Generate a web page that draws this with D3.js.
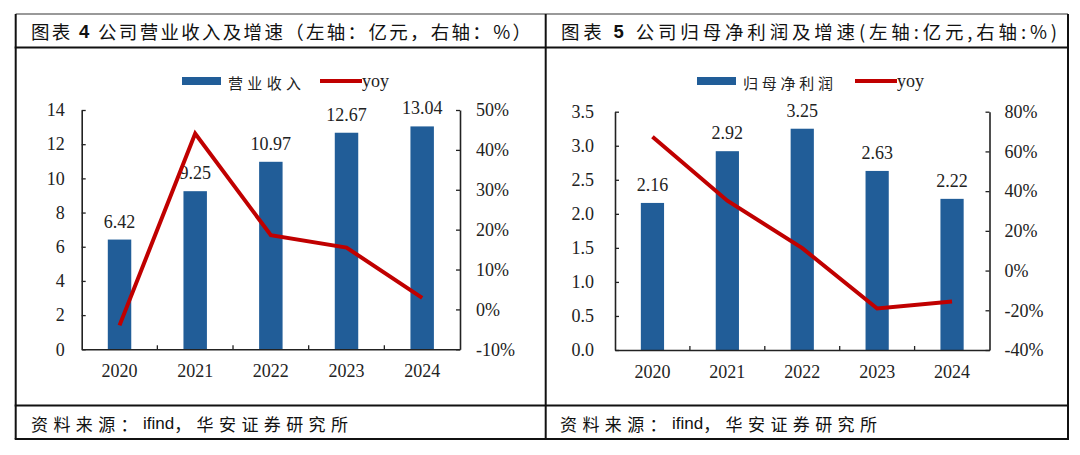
<!DOCTYPE html>
<html>
<head>
<meta charset="utf-8">
<script src="https://cdn.jsdelivr.net/npm/d3@7"></script>
<style>
  body { margin: 0; background: #fff; }
  svg { display: block; }
</style>
</head>
<body>
<script>
// datos
var years = ["2020", "2021", "2022", "2023", "2024"];
var revenue = [6.42, 9.25, 10.97, 12.67, 13.04];
var revenueYoy = [-4.0, 44.1, 18.6, 15.5, 2.9];
var netProfit = [2.16, 2.92, 3.25, 2.63, 2.22];
var netProfitYoy = [67.4, 35.2, 11.3, -19.1, -15.6];

var revenueTicks = [0, 2, 4, 6, 8, 10, 12, 14];
var revenueYoyTicks = [-10, 0, 10, 20, 30, 40, 50];
var profitTicks = [0, 0.5, 1.0, 1.5, 2.0, 2.5, 3.0, 3.5];
var profitYoyTicks = [-40, -20, 0, 20, 40, 60, 80];

// titulos en tres trozos: prefijo, numero, resto
var titles = [
    ["图表 ", "4", " 公司营业收入及增速（左轴：亿元，右轴：%）"],
    ["图表 ", "5", " 公司归母净利润及增速(左轴:亿元,右轴:%)"]
];
var legendNames = ["营业收入", "归母净利润"];
var source = ["资料来源：", "ifind", "，华安证券研究所"];

var width = 1080;
var height = 455;
var colorBar = "#215d98";
var colorLine = "#c00000";
var serif = "'Liberation Serif', 'Times New Roman', serif";
var cjk = "'Noto Sans CJK SC', sans-serif";
var sans = "'Liberation Sans', Arial, sans-serif";

var svg = d3.select("body").append("svg")
    .attr("width", width)
    .attr("height", height);

// marco de la tabla
var boxL = 15.7, boxM = 545.7, boxR = 1068, boxT = 14, boxTitle = 47.5, boxFoot = 405.5, boxB = 439;
svg.append("line").attr("x1", boxL).attr("x2", boxR).attr("y1", boxT).attr("y2", boxT)
    .attr("stroke", "#777").attr("stroke-width", 1.5);
[boxTitle, boxFoot, boxB].forEach(function (y) {
    svg.append("line").attr("x1", boxL - 1).attr("x2", boxR + 1).attr("y1", y).attr("y2", y)
        .attr("stroke", "#111").attr("stroke-width", 2);
});
[boxL, boxM, boxR].forEach(function (x) {
    svg.append("line").attr("x1", x).attr("x2", x).attr("y1", boxT).attr("y2", boxB)
        .attr("stroke", "#111").attr("stroke-width", 2);
});

var panels = [
    {
        title: titles[0], titleX: 31, titleW: 500,
        bars: revenue, yoy: revenueYoy, name: legendNames[0],
        leftTicks: revenueTicks, rightTicks: revenueYoyTicks,
        leftFmt: d3.format("d"),
        plot: { left: 81.7, right: 460, top: 110, bottom: 349.3 },
        leftPad: 17, rightPad: 16,
        legendX: 182, nameW: 73, lineX: 320,
        sourceX: 31
    },
    {
        title: titles[1], titleX: 561, titleW: 496,
        bars: netProfit, yoy: netProfitYoy, name: legendNames[1],
        leftTicks: profitTicks, rightTicks: profitYoyTicks,
        leftFmt: d3.format(".1f"),
        plot: { left: 615, right: 989.5, top: 111.7, bottom: 350 },
        leftPad: 21, rightPad: 15,
        legendX: 697, nameW: 90, lineX: 855,
        sourceX: 560
    }
];

panels.forEach(pintarPanel);

function pintarPanel(p) {
    var g = svg.append("g");

    var titulo = g.append("text")
        .attr("x", p.titleX)
        .attr("y", 31)
        .attr("dominant-baseline", "central")
        .attr("textLength", p.titleW)
        .attr("lengthAdjust", "spacing")
        .style("font-family", cjk)
        .style("font-size", "18.5px")
        .style("fill", "#111");
    titulo.append("tspan").text(p.title[0]);
    titulo.append("tspan").style("font-family", sans).style("font-weight", "bold").text(p.title[1]);
    titulo.append("tspan").text(p.title[2]);

    var fuente = g.append("text")
        .attr("x", p.sourceX)
        .attr("y", 423)
        .attr("dominant-baseline", "central")
        .style("font-family", cjk)
        .style("font-size", "17px")
        .style("fill", "#111");
    fuente.append("tspan").style("letter-spacing", "5.4px").text(source[0]);
    fuente.append("tspan").style("font-family", sans).style("letter-spacing", "0px").text(source[1]);
    fuente.append("tspan").style("letter-spacing", "5.4px").text(source[2]);

    var escalaX = d3.scaleBand()
        .domain(years)
        .range([p.plot.left, p.plot.right])
        .paddingInner(0.69)
        .paddingOuter(0.345);

    var escalaY = d3.scaleLinear()
        .domain(d3.extent(p.leftTicks))
        .range([p.plot.bottom, p.plot.top]);

    var escalaY2 = d3.scaleLinear()
        .domain(d3.extent(p.rightTicks))
        .range([p.plot.bottom, p.plot.top]);

    // barras
    g.selectAll("rect.bar")
        .data(p.bars)
        .join("rect")
        .attr("class", "bar")
        .attr("x", function (d, i) { return escalaX(years[i]); })
        .attr("y", function (d) { return escalaY(d); })
        .attr("width", escalaX.bandwidth())
        .attr("height", function (d) { return escalaY(0) - escalaY(d); })
        .attr("fill", colorBar);

    // etiquetas de valor
    g.selectAll("text.valor")
        .data(p.bars)
        .join("text")
        .attr("class", "valor")
        .attr("x", function (d, i) { return escalaX(years[i]) + escalaX.bandwidth() / 2; })
        .attr("y", function (d) { return escalaY(d) - 12; })
        .attr("text-anchor", "middle")
        .style("font-family", serif)
        .style("font-size", "18px")
        .style("fill", "#222")
        .text(function (d) { return d3.format(".2f")(d); });

    // ejes
    var ejeY = d3.axisLeft(escalaY)
        .tickValues(p.leftTicks)
        .tickFormat(p.leftFmt)
        .tickSizeInner(-4)
        .tickSizeOuter(0)
        .tickPadding(p.leftPad);
    var gY = g.append("g")
        .attr("transform", "translate(" + p.plot.left + ",0)")
        .call(ejeY);

    var ejeY2 = d3.axisRight(escalaY2)
        .tickValues(p.rightTicks)
        .tickFormat(function (d) { return d + "%"; })
        .tickSizeInner(-4)
        .tickSizeOuter(0)
        .tickPadding(p.rightPad);
    var gY2 = g.append("g")
        .attr("transform", "translate(" + p.plot.right + ",0)")
        .call(ejeY2);

    var ejeX = d3.axisBottom(escalaX)
        .tickSize(0)
        .tickPadding(15);
    var gX = g.append("g")
        .attr("transform", "translate(0," + p.plot.bottom + ")")
        .call(ejeX);

    // marcas entre categorias
    gX.selectAll("line.sep")
        .data(years.slice(1))
        .join("line")
        .attr("class", "sep")
        .attr("x1", function (d) { return escalaX(d) + escalaX.bandwidth() / 2 - escalaX.step() / 2; })
        .attr("x2", function (d) { return escalaX(d) + escalaX.bandwidth() / 2 - escalaX.step() / 2; })
        .attr("y1", 0)
        .attr("y2", -4)
        .attr("stroke", "#222")
        .attr("stroke-width", 1.3);

    [gY, gY2, gX].forEach(function (eje) {
        eje.select(".domain").attr("stroke", "#222").attr("stroke-width", 1.6);
        eje.selectAll(".tick line").attr("stroke", "#222").attr("stroke-width", 1.3);
        eje.selectAll("text")
            .style("font-family", serif)
            .style("font-size", "18px")
            .style("fill", "#222");
    });

    // linea yoy
    var linea = d3.line()
        .x(function (d, i) { return escalaX(years[i]) + escalaX.bandwidth() / 2; })
        .y(function (d) { return escalaY2(d); });

    g.append("path")
        .datum(p.yoy)
        .attr("d", linea)
        .attr("fill", "none")
        .attr("stroke", colorLine)
        .attr("stroke-width", 4)
        .attr("stroke-linejoin", "miter");

    // leyenda
    var leyenda = g.append("g");
    leyenda.append("rect")
        .attr("x", p.legendX)
        .attr("y", 77)
        .attr("width", 39)
        .attr("height", 8)
        .attr("fill", colorBar);
    leyenda.append("text")
        .attr("x", p.legendX + 46)
        .attr("y", 82)
        .attr("dominant-baseline", "central")
        .attr("textLength", p.nameW)
        .attr("lengthAdjust", "spacing")
        .style("font-family", cjk)
        .style("font-size", "15px")
        .style("fill", "#222")
        .text(p.name);
    leyenda.append("line")
        .attr("x1", p.lineX)
        .attr("x2", p.lineX + 42)
        .attr("y1", 81)
        .attr("y2", 81)
        .attr("stroke", colorLine)
        .attr("stroke-width", 4);
    leyenda.append("text")
        .attr("x", p.lineX + 42)
        .attr("y", 87)
        .style("font-family", serif)
        .style("font-size", "18px")
        .style("fill", "#222")
        .text("yoy");
}
</script>
</body>
</html>
